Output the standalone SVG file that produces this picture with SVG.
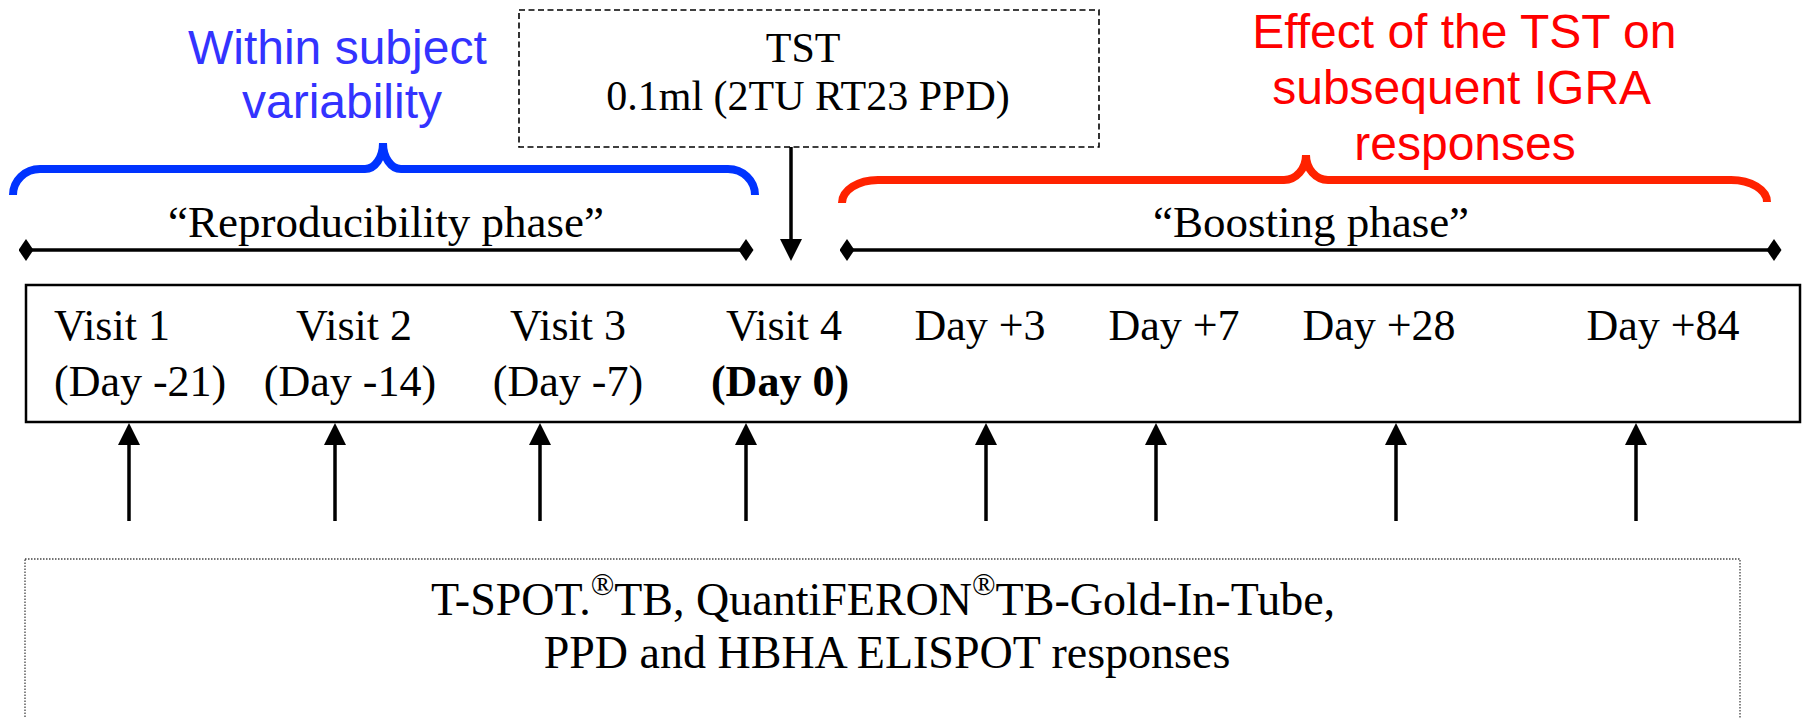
<svg xmlns="http://www.w3.org/2000/svg" width="1806" height="718" viewBox="0 0 1806 718">
  <style>
    .serif { font-family: "Liberation Serif", "Times New Roman", serif; fill: #000; }
    .sans { font-family: "Liberation Sans", Arial, sans-serif; }
    .vis { font-size: 44px; }
    .phase { font-size: 45px; text-anchor: middle; }
    .conn { stroke: #000; stroke-width: 3.5; fill: none; }
    .brace { fill: none; stroke-width: 8; stroke-linecap: butt; }
  </style>
  <defs>
    <marker id="arrow" markerUnits="userSpaceOnUse" markerWidth="22" markerHeight="22" refX="0" refY="11" orient="auto" viewBox="0 0 22 22">
      <path d="M0,0 L22,11 L0,22 z" fill="#000"/>
    </marker>
    <marker id="diamond" markerUnits="userSpaceOnUse" markerWidth="15" markerHeight="22" refX="7.5" refY="11" orient="auto" viewBox="0 0 15 22">
      <path d="M0,11 L7.5,0 L15,11 L7.5,22 z" fill="#000"/>
    </marker>
  </defs>
  <rect width="1806" height="718" fill="#fff"/>

  <g id="within-label">
    <text class="sans" font-size="48" fill="#3333ff" text-anchor="middle">
      <tspan x="344" y="64">Within subject</tspan>
      <tspan x="342" y="118">variability</tspan>
    </text>
  </g>

  <g id="effect-label">
    <text class="sans" font-size="48" fill="#ff0000" text-anchor="middle">
      <tspan x="1471" y="48">Effect of the TST on</tspan>
      <tspan x="1467" y="104">subsequent IGRA</tspan>
      <tspan x="1465" y="160">responses</tspan>
    </text>
  </g>

  <g id="tst">
    <rect x="519" y="10" width="580" height="137" fill="none" stroke="#000" stroke-width="1.6" stroke-dasharray="6 3.5"/>
    <text class="serif" font-size="42" text-anchor="middle">
      <tspan x="808" y="62">TST</tspan>
      <tspan x="808" y="110">0.1ml (2TU RT23 PPD)</tspan>
    </text>
  </g>

  <g id="blue-brace">
    <path class="brace" stroke="#0033ff" d="M13,195 A27,26 0 0 1 40,169 L365,169 A18,26 0 0 0 383,143 A18,26 0 0 0 401,169 L728,169 A27,26 0 0 1 755,195"/>
  </g>

  <g id="red-brace">
    <path class="brace" stroke="#ff2200" d="M842,203 A36,23 0 0 1 878,180 L1284,180 A22,25 0 0 0 1306,155 A22,25 0 0 0 1328,180 L1731,180 A36,22 0 0 1 1767,202"/>
  </g>

  <g id="reproducibility-phase">
    <text class="serif phase" x="386" y="237">“Reproducibility phase”</text>
    <line class="conn" x1="26" y1="250" x2="746" y2="250" stroke-width="4" marker-start="url(#diamond)" marker-end="url(#diamond)"/>
  </g>

  <g id="boosting-phase">
    <text class="serif phase" x="1311" y="237">“Boosting phase”</text>
    <line class="conn" x1="847" y1="250" x2="1774" y2="250" stroke-width="4" marker-start="url(#diamond)" marker-end="url(#diamond)"/>
  </g>

  <g id="timeline">
    <rect x="26" y="285" width="1774" height="137" fill="none" stroke="#000" stroke-width="2.5"/>
    <text class="serif vis" x="54" y="340">Visit 1</text>
    <text class="serif vis" x="54" y="396">(Day -21)</text>
    <text class="serif vis" x="354" y="340" text-anchor="middle">Visit 2</text>
    <text class="serif vis" x="350" y="396" text-anchor="middle">(Day -14)</text>
    <text class="serif vis" x="568" y="340" text-anchor="middle">Visit 3</text>
    <text class="serif vis" x="568" y="396" text-anchor="middle">(Day -7)</text>
    <text class="serif vis" x="784" y="340" text-anchor="middle">Visit 4</text>
    <text class="serif vis" x="780" y="396" text-anchor="middle" font-weight="bold">(Day 0)</text>
    <text class="serif vis" x="980" y="340" text-anchor="middle">Day +3</text>
    <text class="serif vis" x="1174" y="340" text-anchor="middle">Day +7</text>
    <text class="serif vis" x="1379" y="340" text-anchor="middle">Day +28</text>
    <text class="serif vis" x="1663" y="340" text-anchor="middle">Day +84</text>
  </g>

  <g id="assays">
    <rect x="25" y="559" width="1715" height="200" fill="none" stroke="#444" stroke-width="1.3" stroke-dasharray="1.5 1.5"/>
    <text class="serif" font-size="46" text-anchor="middle" x="883" y="615">T-SPOT.<tspan font-size="31" dy="-20">®</tspan><tspan dy="20">TB, QuantiFERON</tspan><tspan font-size="31" dy="-20">®</tspan><tspan dy="20">TB-Gold-In-Tube,</tspan></text>
    <text class="serif" font-size="46" text-anchor="middle" x="887" y="668">PPD and HBHA ELISPOT responses</text>
  </g>

  <g id="connectors">
    <line class="conn" x1="791" y1="147" x2="791" y2="239" marker-end="url(#arrow)"/>
    <line class="conn" x1="129" y1="521" x2="129" y2="445" marker-end="url(#arrow)"/>
    <line class="conn" x1="335" y1="521" x2="335" y2="445" marker-end="url(#arrow)"/>
    <line class="conn" x1="540" y1="521" x2="540" y2="445" marker-end="url(#arrow)"/>
    <line class="conn" x1="746" y1="521" x2="746" y2="445" marker-end="url(#arrow)"/>
    <line class="conn" x1="986" y1="521" x2="986" y2="445" marker-end="url(#arrow)"/>
    <line class="conn" x1="1156" y1="521" x2="1156" y2="445" marker-end="url(#arrow)"/>
    <line class="conn" x1="1396" y1="521" x2="1396" y2="445" marker-end="url(#arrow)"/>
    <line class="conn" x1="1636" y1="521" x2="1636" y2="445" marker-end="url(#arrow)"/>
  </g>
</svg>
